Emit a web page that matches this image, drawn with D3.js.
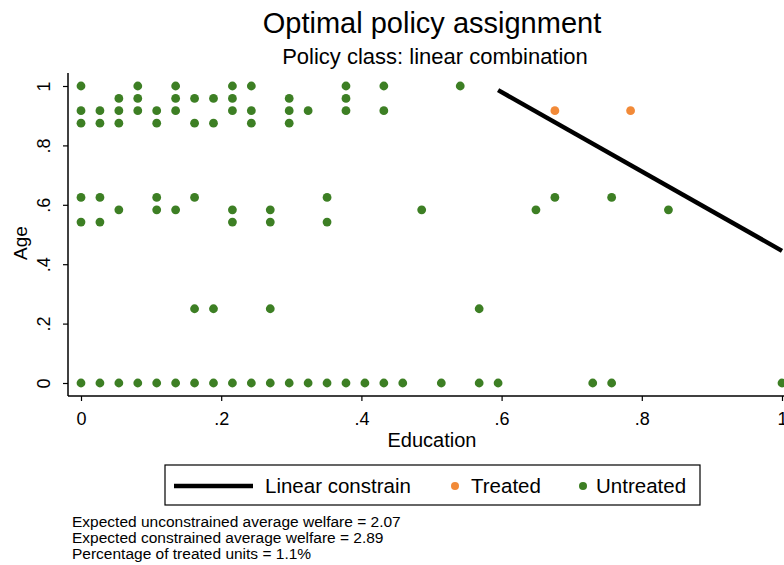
<!DOCTYPE html>
<html lang="en">
<head>
    <meta charset="UTF-8">
    <title>Optimal policy assignment</title>
    <script src="https://d3js.org/d3.v7.min.js"></script>
    <style>
        body {
            margin: 0;
            padding: 0;
            background: #fff;
        }
        svg text {
            font-family: "Liberation Sans", Arial, Helvetica, sans-serif;
            fill: #000;
        }
    </style>
</head>
<body>
    <svg id="chart" width="784" height="565"></svg>

    <script>
        // Education values (x) per age row
        const ageRows = [1, 0.958, 0.917, 0.875, 0.625, 0.583, 0.542, 0.25, 0];
        const untreatedEduc = [
            [0, .081, .135, .216, .243, .378, .432, .541],
            [.054, .081, .135, .162, .189, .216, .297, .378],
            [0, .027, .054, .081, .108, .135, .216, .243, .297, .324, .378, .432],
            [0, .027, .054, .108, .162, .189, .243, .297],
            [0, .027, .108, .162, .351, .676, .757],
            [.054, .108, .135, .216, .270, .486, .649, .838],
            [0, .027, .216, .270, .351],
            [.162, .189, .270, .568],
            [0, .027, .054, .081, .108, .135, .162, .189, .216, .243, .270, .297,
             .324, .351, .378, .405, .432, .459, .514, .568, .595, .730, .757, 1]
        ];
        const treatedEduc = [.676, .784];
        const treatedAge = [0.917, 0.917];

        // Linear constraint endpoints
        const lineEduc = [0.595, 1.0];
        const lineAge = [0.986, 0.445];

        const xTicks = [0, 0.2, 0.4, 0.6, 0.8, 1];
        const yTicks = [0, 0.2, 0.4, 0.6, 0.8, 1];
        const tickFormat = d => d === 0 ? "0" : d === 1 ? "1" : String(d).replace(/^0/, "");

        const notes = [
            "Expected unconstrained average welfare = 2.07",
            "Expected constrained average welfare = 2.89",
            "Percentage of treated units = 1.1%"
        ];

        const green = "#3d7f24";
        const orange = "#f28a38";

        const svg = d3.select("#chart");

        // plot region
        const plotLeft = 68, plotRight = 795, plotTop = 73, plotBottom = 396;

        const x = d3.scaleLinear().domain([0, 1]).range([81, 782]);
        const y = d3.scaleLinear().domain([0, 1]).range([383, 86]);

        // Titles
        svg.append("text")
            .attr("x", 432).attr("y", 33)
            .attr("text-anchor", "middle")
            .style("font-size", "29px")
            .text("Optimal policy assignment");
        svg.append("text")
            .attr("x", 435).attr("y", 64)
            .attr("text-anchor", "middle")
            .style("font-size", "22px")
            .text("Policy class: linear combination");

        // Untreated points
        const untreated = [];
        untreatedEduc.forEach((row, i) => {
            row.forEach(e => untreated.push({ educ: e, age: ageRows[i] }));
        });
        svg.append("g")
            .selectAll("circle")
            .data(untreated)
            .join("circle")
            .attr("cx", d => x(d.educ))
            .attr("cy", d => y(d.age))
            .attr("r", 4.4)
            .attr("fill", green);

        // Treated points
        svg.append("g")
            .selectAll("circle")
            .data(treatedEduc.map((e, i) => ({ educ: e, age: treatedAge[i] })))
            .join("circle")
            .attr("cx", d => x(d.educ))
            .attr("cy", d => y(d.age))
            .attr("r", 4.4)
            .attr("fill", orange);

        // Linear constraint line
        const line = d3.line()
            .x(d => x(d[0]))
            .y(d => y(d[1]));
        svg.append("path")
            .datum(lineEduc.map((e, i) => [e, lineAge[i]]))
            .attr("fill", "none")
            .attr("stroke", "#000")
            .attr("stroke-width", 4.5)
            .attr("d", line);

        // X axis
        const xAxis = svg.append("g")
            .attr("transform", `translate(0, ${plotBottom})`)
            .call(d3.axisBottom(x).tickValues(xTicks).tickFormat(tickFormat).tickSize(5).tickPadding(11))
            .call(g => g.select(".domain").remove());
        xAxis.selectAll("line").attr("stroke", "#000").attr("stroke-width", 1.2);
        xAxis.selectAll("text").style("font-size", "18px").attr("font-family", null);
        svg.append("line")
            .attr("x1", plotLeft).attr("x2", plotRight)
            .attr("y1", plotBottom).attr("y2", plotBottom)
            .attr("stroke", "#000").attr("stroke-width", 1.5);

        // Y axis
        const yAxis = svg.append("g")
            .attr("transform", `translate(${plotLeft}, 0)`)
            .call(d3.axisLeft(y).tickValues(yTicks).tickFormat(tickFormat).tickSize(5))
            .call(g => g.select(".domain").remove());
        yAxis.selectAll("line").attr("stroke", "#000").attr("stroke-width", 1.2);
        yAxis.selectAll("text").remove();
        yAxis.selectAll(".tick")
            .append("text")
            .attr("transform", "translate(-18, 0) rotate(-90)")
            .attr("text-anchor", "middle")
            .style("font-size", "18px")
            .text(tickFormat);
        svg.append("line")
            .attr("x1", plotLeft).attr("x2", plotLeft)
            .attr("y1", plotTop).attr("y2", plotBottom)
            .attr("stroke", "#000").attr("stroke-width", 1.5);

        // Axis titles
        svg.append("text")
            .attr("x", 432).attr("y", 447)
            .attr("text-anchor", "middle")
            .style("font-size", "20px")
            .text("Education");
        svg.append("text")
            .attr("transform", "translate(27, 243) rotate(-90)")
            .attr("text-anchor", "middle")
            .style("font-size", "19px")
            .text("Age");

        // Legend
        const legend = svg.append("g");
        legend.append("rect")
            .attr("x", 165).attr("y", 465)
            .attr("width", 535).attr("height", 40)
            .attr("fill", "#fff")
            .attr("stroke", "#000").attr("stroke-width", 1.2);
        legend.append("line")
            .attr("x1", 174).attr("x2", 253)
            .attr("y1", 486).attr("y2", 486)
            .attr("stroke", "#000").attr("stroke-width", 4.5);
        legend.append("text").attr("x", 265).attr("y", 493)
            .style("font-size", "20.5px").text("Linear constrain");
        legend.append("circle").attr("cx", 455).attr("cy", 486).attr("r", 4)
            .attr("fill", orange);
        legend.append("text").attr("x", 471).attr("y", 493)
            .style("font-size", "20.5px").text("Treated");
        legend.append("circle").attr("cx", 583).attr("cy", 486).attr("r", 4)
            .attr("fill", green);
        legend.append("text").attr("x", 596).attr("y", 493)
            .style("font-size", "20.5px").text("Untreated");

        // Notes
        svg.append("g")
            .selectAll("text")
            .data(notes)
            .join("text")
            .attr("x", 72)
            .attr("y", (d, i) => 527 + i * 16)
            .style("font-size", "15.5px")
            .text(d => d);
    </script>
</body>
</html>
